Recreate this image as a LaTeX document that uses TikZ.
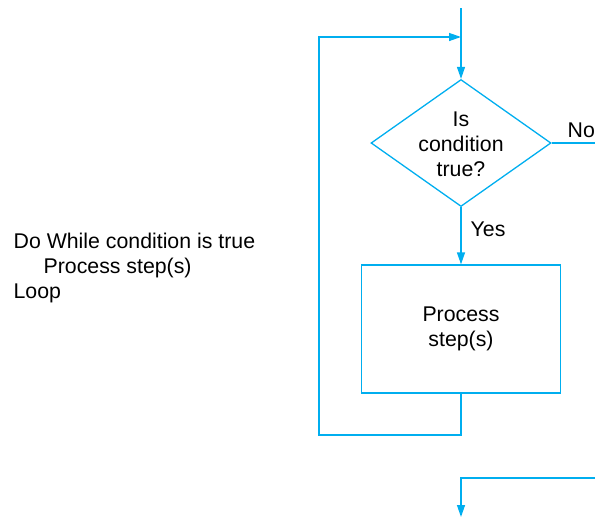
\documentclass[tikz,border=0pt]{standalone}
\usepackage{fontspec}
\setmainfont{Liberation Sans}
\usetikzlibrary{arrows.meta,shapes.geometric}

\definecolor{flowblue}{RGB}{0,174,239}

\begin{document}
\begin{tikzpicture}[x=1pt,y=-1pt,>={Triangle[length=12pt,width=8pt]},
                    line width=1.3pt,
                    every node/.style={font=\fontsize{21.3}{25}\selectfont},
                    flow/.style={draw=flowblue,line width=1.3pt},
                    decision/.style={diamond,flow,inner sep=0pt,
                                     minimum width=180pt,minimum height=127pt},
                    process/.style={rectangle,flow,inner sep=0pt,
                                    minimum width=199pt,minimum height=128pt}]

  \useasboundingbox (0,0) rectangle (595,517);

  % pseudo code
  \node[anchor=base west,inner sep=0pt] (dowhile) at (13,248) {Do While condition is true};
  \node[anchor=base west,inner sep=0pt] (body)    at (43,273) {Process step(s)};
  \node[anchor=base west,inner sep=0pt] (loopend) at (13,298) {Loop};

  % flowchart
  \coordinate (entry)  at (461,8);
  \coordinate (join)   at (461,37);
  \node[decision] (cond) at (461,143) {};
  \node[align=center,inner sep=0pt] (condtext) at (461,144) {Is\\condition\\true?};
  \node[process]  (proc) at (461,329) {};
  \node[align=center,inner sep=0pt] (proctext) at (461,329) {Process\\step(s)};
  \coordinate (back)   at (461,435);
  \coordinate (backup) at (319,435);
  \coordinate (backtop) at (319,37);
  \coordinate (noend)  at (595,143);
  \coordinate (nocome) at (595,478);
  \coordinate (exitbend) at (461,478);
  \coordinate (exit)   at (461,517);

  \draw[flowblue,->] (entry) -- (cond.north);
  \draw[flowblue,->] (proc.south) -- (back) -- (backup) -- (backtop) -- (join);
  \draw[flowblue,->] (cond.south) -- (proc.north);
  \draw[flowblue] (cond.east) -- (noend);
  \draw[flowblue,->] (nocome) -- (exitbend) -- (exit);

  \node[anchor=base west,inner sep=0pt] (yes) at (470,236) {Yes};
  \node[anchor=base west,inner sep=0pt] (no)  at (567,137) {No};
\end{tikzpicture}
\end{document}
